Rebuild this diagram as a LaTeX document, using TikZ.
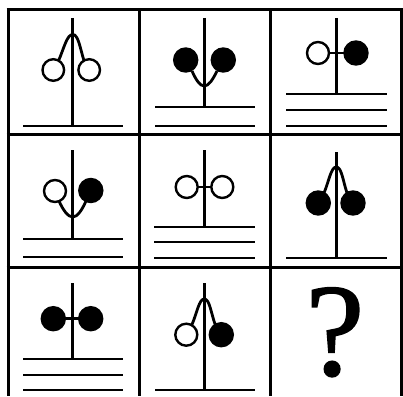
\documentclass[tikz,border=0pt]{standalone}
\usepackage{fontspec}
\setmainfont{Liberation Serif}
\newfontfamily\qfont{Liberation Serif}[FakeBold=1.2]
\begin{document}
\begin{tikzpicture}[x=1pt,y=-1pt,
  gridline/.style={line width=3pt},
  stem/.style={line width=2.8pt},
  openball/.style={line width=2.4pt, draw=black, fill=white},
  fullball/.style={line width=2.4pt, draw=black, fill=black},
]
\useasboundingbox (0,0) rectangle (403,396);
\fill[white] (0,0) rectangle (403,396);
% grid
\foreach \gx in {8,139,270,401} \draw[gridline] (\gx,8.5) -- (\gx,396);
\foreach \gy in {10,134,267} \draw[gridline] (6.5,\gy) -- (402.5,\gy);

% cell 1
\draw[stem] (72.7,18) -- (72.7,126);
\draw[stem] (23,126) -- (123,126);
\draw[stem] (58.6,60.7) .. controls (64,48) and (67,34.5) .. (72.7,34.5) .. controls (78.4,34.5) and (80,48) .. (84,60.7);
\draw[openball] (53.3,70) circle[radius=10.8pt];
\draw[openball] (89.2,70) circle[radius=10.8pt];

% cell 2
\draw[stem] (204.3,18) -- (204.3,107);
\draw[stem] (155,107) -- (255,107);
\draw[stem] (155,126) -- (255,126);
\draw[stem] (192,71) .. controls (196,80) and (200,86) .. (204.3,86) .. controls (208.6,86) and (212.6,80) .. (217,71);
\draw[fullball] (185.7,60) circle[radius=11.5pt];
\draw[fullball] (223.3,60) circle[radius=11.5pt];

% cell 3
\draw[stem] (336.3,18) -- (336.3,94);
\draw[stem] (286,94) -- (387,94);
\draw[stem] (286,110) -- (387,110);
\draw[stem] (286,126) -- (387,126);
\draw[stem] (318,53) -- (356,53);
\draw[openball] (318,53) circle[radius=11pt];
\draw[fullball] (356,53) circle[radius=11.5pt];

% cell 4
\draw[stem] (72.7,150) -- (72.7,239);
\draw[stem] (23,239) -- (123,239);
\draw[stem] (23,257) -- (123,257);
\draw[stem] (59,201) .. controls (63,210) and (68,217) .. (72.7,217) .. controls (77.4,217) and (82,210) .. (86,201);
\draw[openball] (55,191) circle[radius=11pt];
\draw[fullball] (90.8,190.5) circle[radius=11.5pt];

% cell 5
\draw[stem] (204.3,150) -- (204.3,227);
\draw[stem] (154,227) -- (255,227);
\draw[stem] (154,242) -- (255,242);
\draw[stem] (154,258) -- (255,258);
\draw[stem] (186.7,187) -- (222.3,187);
\draw[openball] (186.7,187) circle[radius=11pt];
\draw[openball] (222.3,187) circle[radius=11pt];

% cell 6
\draw[stem] (336.3,152) -- (336.3,258);
\draw[stem] (286,258) -- (387,258);
\draw[stem] (324,193) .. controls (329,181) and (331,167) .. (336.3,167) .. controls (341.6,167) and (343,181) .. (347,193);
\draw[fullball] (318.3,203) circle[radius=11.5pt];
\draw[fullball] (353,203) circle[radius=11.5pt];

% cell 7
\draw[stem] (72.7,283) -- (72.7,359);
\draw[stem] (23,359) -- (123,359);
\draw[stem] (23,375) -- (123,375);
\draw[stem] (23,390) -- (123,390);
\draw[stem] (53.3,318.7) -- (90.7,318.7);
\draw[fullball] (53.3,318.7) circle[radius=11.5pt];
\draw[fullball] (90.7,318.7) circle[radius=11.5pt];

% cell 8
\draw[stem] (204.3,283) -- (204.3,390);
\draw[stem] (155,390) -- (255,390);
\draw[stem] (191.8,325) .. controls (197,313) and (199,299) .. (204.3,299) .. controls (209.6,299) and (211,313) .. (215.3,325);
\draw[openball] (186.3,334.7) circle[radius=11pt];
\draw[fullball] (221.3,334.7) circle[radius=11.5pt];

% cell 9
\node[anchor=base, inner sep=0pt, text depth=0pt, font=\fontsize{132}{132}\qfont] (qmark) at (335,375) {?};
\end{tikzpicture}
\end{document}
